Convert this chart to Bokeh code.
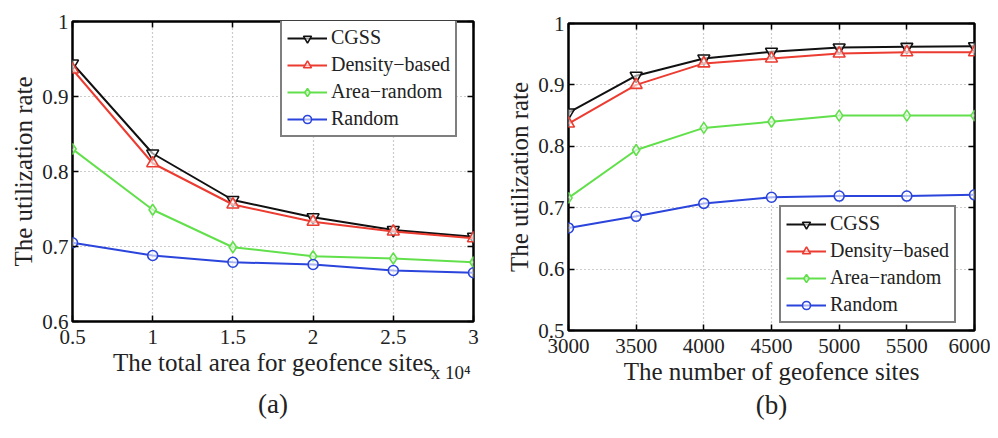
from bokeh.plotting import figure
from bokeh.layouts import row
from bokeh.models import LinearAxis, Title, Legend, LegendItem, FixedTicker, Range1d
from bokeh.embed import file_html
from bokeh.resources import INLINE

# ---------------- data ----------------
series_names = ["CGSS", "Density\u2212based", "Area\u2212random", "Random"]

area_x = [0.5, 1.0, 1.5, 2.0, 2.5, 3.0]  # x 10^4
area_cgss = [0.944, 0.824, 0.762, 0.739, 0.722, 0.713]
area_density = [0.936, 0.811, 0.756, 0.733, 0.720, 0.711]
area_arearandom = [0.830, 0.749, 0.699, 0.687, 0.684, 0.679]
area_random = [0.705, 0.688, 0.679, 0.676, 0.668, 0.665]

num_x = [3000, 3500, 4000, 4500, 5000, 5500, 6000]
num_cgss = [0.855, 0.915, 0.943, 0.954, 0.961, 0.962, 0.963]
num_density = [0.837, 0.900, 0.935, 0.943, 0.951, 0.953, 0.953]
num_arearandom = [0.716, 0.794, 0.830, 0.840, 0.850, 0.850, 0.850]
num_random = [0.667, 0.686, 0.707, 0.717, 0.719, 0.719, 0.721]

left_yticks = [0.6, 0.7, 0.8, 0.9, 1.0]
right_yticks = [0.5, 0.6, 0.7, 0.8, 0.9, 1.0]
left_xticks = [0.5, 1.0, 1.5, 2.0, 2.5, 3.0]
right_xticks = [3000, 3500, 4000, 4500, 5000, 5500, 6000]

colors = ["#111111", "#ec3b30", "#62e04c", "#2a44dc"]
markers = ["inverted_triangle", "triangle", "diamond", "circle"]
marker_sizes = [12, 12, 11, 10]

FONT = "Liberation Serif"
TXT = "#222222"


def style(p, xticks, yticks):
    p.outline_line_color = "black"
    p.outline_line_width = 2.5
    p.background_fill_color = "white"
    p.border_fill_color = "white"
    for ax in [p.xaxis[0], p.yaxis[0]]:
        ax.axis_line_color = None
        ax.major_tick_in = 6
        ax.major_tick_out = 0
        ax.major_tick_line_width = 1.5
        ax.major_tick_line_color = "black"
        ax.minor_tick_line_color = None
        ax.major_label_text_font = FONT
        ax.major_label_text_font_size = "21px"
        ax.major_label_text_color = TXT
        ax.axis_label_text_font = FONT
        ax.axis_label_text_font_size = "25px"
        ax.axis_label_text_font_style = "normal"
        ax.axis_label_text_color = TXT
        ax.axis_label_standoff = 2
    p.xaxis[0].ticker = FixedTicker(ticks=xticks)
    p.yaxis[0].ticker = FixedTicker(ticks=yticks)
    p.xaxis[0].major_label_standoff = 8
    p.yaxis[0].major_label_standoff = 4
    p.yaxis[0].major_label_orientation = "horizontal"
    p.yaxis[0].major_label_overrides = {1.0: "1", 1: "1"}
    for loc, ticks in (("right", yticks), ("above", xticks)):
        ax = LinearAxis(ticker=FixedTicker(ticks=ticks))
        ax.axis_line_color = None
        ax.major_tick_in = 6
        ax.major_tick_out = 0
        ax.major_tick_line_width = 1.5
        ax.minor_tick_line_color = None
        ax.major_label_overrides = {t: "" for t in ticks}
        ax.major_label_standoff = 0
        p.add_layout(ax, loc)
    p.xgrid.ticker = FixedTicker(ticks=xticks)
    p.ygrid.ticker = FixedTicker(ticks=yticks)
    for g in (p.xgrid[0], p.ygrid[0]):
        g.grid_line_color = "#9a9a9a"
        g.grid_line_dash = "1 3"
        g.grid_line_width = 1.2


def add_series(p, xs, ys_list):
    items = []
    for name, ys, c, m, s in zip(series_names, ys_list, colors, markers, marker_sizes):
        r1 = p.line(xs, ys, line_color=c, line_width=2)
        r2 = p.scatter(xs, ys, marker=m, size=s, line_color=c, fill_color="white",
                       fill_alpha=0.6, line_width=1.6)
        items.append(LegendItem(label=name, renderers=[r1, r2]))
    return items


def make_legend(items, loc):
    lg = Legend(items=items, location=loc)
    lg.border_line_color = "black"
    lg.border_line_width = 2.5
    lg.background_fill_color = "white"
    lg.background_fill_alpha = 1
    lg.label_text_font = FONT
    lg.label_text_font_size = "20px"
    lg.label_text_color = TXT
    lg.glyph_width = 40
    lg.glyph_height = 20
    lg.label_height = 20
    lg.spacing = 4
    lg.padding = 5
    lg.margin = 0
    lg.label_standoff = 4
    return lg


def add_title(p, text, size, align, standoff, offset=0):
    t = Title(text=text, align=align, text_font=FONT, text_font_size=size,
              text_font_style="normal", text_color=TXT, standoff=standoff,
              offset=offset, vertical_align="top")
    p.add_layout(t, "below")


# ---------------- left panel ----------------
p1 = figure(width=498, height=430, output_backend="svg", toolbar_location=None,
            x_range=Range1d(0.5, 3.0), y_range=Range1d(0.6, 1.0),
            min_border_left=72, min_border_right=25, min_border_top=21,
            min_border_bottom=107)
p1.frame_align = False
p1.xaxis.axis_label = "The total area for geofence sites"
p1.yaxis.axis_label = "The utilization rate"
style(p1, left_xticks, left_yticks)
items1 = add_series(p1, area_x, [area_cgss, area_density, area_arearandom, area_random])
p1.add_layout(make_legend(items1, (208, 184)), "center")
add_title(p1, "x 10\u2074", "19px", "right", -34, 3)
add_title(p1, "(a)", "27px", "center", 20)

# ---------------- right panel ----------------
p2 = figure(width=492, height=430, output_backend="svg", toolbar_location=None,
            x_range=Range1d(3000, 6000), y_range=Range1d(0.5, 1.0),
            min_border_left=70, min_border_right=16, min_border_top=23,
            min_border_bottom=100)
p2.frame_align = False
p2.xaxis.axis_label = "The number of geofence sites"
p2.yaxis.axis_label = "The utilization rate"
style(p2, right_xticks, right_yticks)
items2 = add_series(p2, num_x, [num_cgss, num_density, num_arearandom, num_random])
p2.add_layout(make_legend(items2, (211, 7)), "center")
add_title(p2, "(b)", "27px", "center", 4)

layout = row(p1, p2)
open("out.html", "w").write(file_html(layout, INLINE))
